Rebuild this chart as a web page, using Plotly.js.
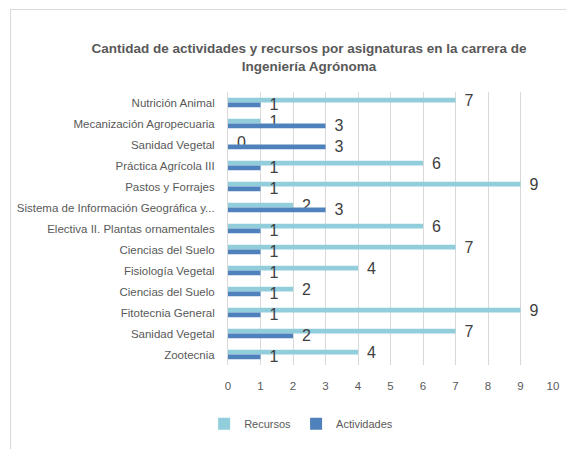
<!DOCTYPE html>
<html>
<head>
<meta charset="utf-8">
<script src="https://cdn.plot.ly/plotly-3.0.1.min.js"></script>
<style>
html,body{margin:0;padding:0;background:#fff;width:566px;height:449px;overflow:hidden;}
#chart{position:absolute;left:10px;top:9px;width:556px;height:440px;border-left:1px solid #d9d9d9;border-top:1px solid #d9d9d9;box-sizing:border-box;}
</style>
</head>
<body>
<div id="chart"></div>
<script>
const categories = [
  "Nutrición Animal",
  "Mecanización Agropecuaria",
  "Sanidad Vegetal",
  "Práctica Agrícola III",
  "Pastos y Forrajes",
  "Sistema de Información Geográfica y...",
  "Electiva II. Plantas ornamentales",
  "Ciencias del Suelo",
  "Fisiología Vegetal",
  "Ciencias del Suelo",
  "Fitotecnia General",
  "Sanidad Vegetal",
  "Zootecnia"
];
const recursos = [7, 1, 0, 6, 9, 2, 6, 7, 4, 2, 9, 7, 4];
const actividades = [1, 3, 3, 1, 1, 3, 1, 1, 1, 1, 1, 2, 1];
const xTicks = [0,1,2,3,4,5,6,7,8,9,10];

const FONT = "'Liberation Sans Narrow', 'Arial Narrow', 'Liberation Sans', Arial, sans-serif";
const pos = categories.map((c, i) => i);

const common = {
  type: 'bar',
  orientation: 'h',
  y: pos,
  textposition: 'outside',
  texttemplate: '  %{x}',
  cliponaxis: false,
  constraintext: 'none',
  textfont: {family: FONT, size: 16, color: '#404040'},
  hoverinfo: 'x+name'
};

const data = [
  Object.assign({}, common, {name: 'Recursos', x: recursos, marker: {color: '#92CDDC'}}),
  Object.assign({}, common, {name: 'Actividades', x: actividades, marker: {color: '#4F81BD'}})
];

const layout = {
  width: 556, height: 440,
  margin: {l: 217, r: 14, t: 82, b: 83},
  paper_bgcolor: '#fff', plot_bgcolor: '#fff',
  font: {family: FONT, color: '#595959', size: 12},
  title: {
    text: '<b>Cantidad de actividades y recursos por asignaturas en la carrera de<br>Ingeniería Agrónoma</b>',
    font: {family: FONT, size: 13.5, color: '#595959'},
    x: 0.536, xanchor: 'center', y: 0.902, yanchor: 'middle'
  },
  barmode: 'group',
  bargap: 0.55,
  bargroupgap: 0,
  showlegend: true,
  legend: {
    orientation: 'h', x: 0.225, xanchor: 'center', y: -0.215, yanchor: 'middle',
    font: {family: FONT, size: 11, color: '#595959'},
    traceorder: 'normal'
  },
  xaxis: {
    range: [0, 10], tickvals: xTicks, ticktext: xTicks.map(String),
    showgrid: true, gridcolor: '#d9d9d9', gridwidth: 1,
    zeroline: false, showline: false,
    ticklabelstandoff: 12,
    tickfont: {family: FONT, size: 11.5, color: '#595959'},
    fixedrange: true
  },
  yaxis: {
    tickvals: pos, ticktext: categories,
    range: [categories.length - 0.5, -0.5],
    showgrid: false, zeroline: false,
    showline: true, linecolor: '#d9d9d9', linewidth: 1,
    ticklabelstandoff: 10,
    tickfont: {family: FONT, size: 11.5, color: '#595959'},
    fixedrange: true
  }
};

Plotly.newPlot('chart', data, layout, {displayModeBar: false, staticPlot: true});
</script>
</body>
</html>
